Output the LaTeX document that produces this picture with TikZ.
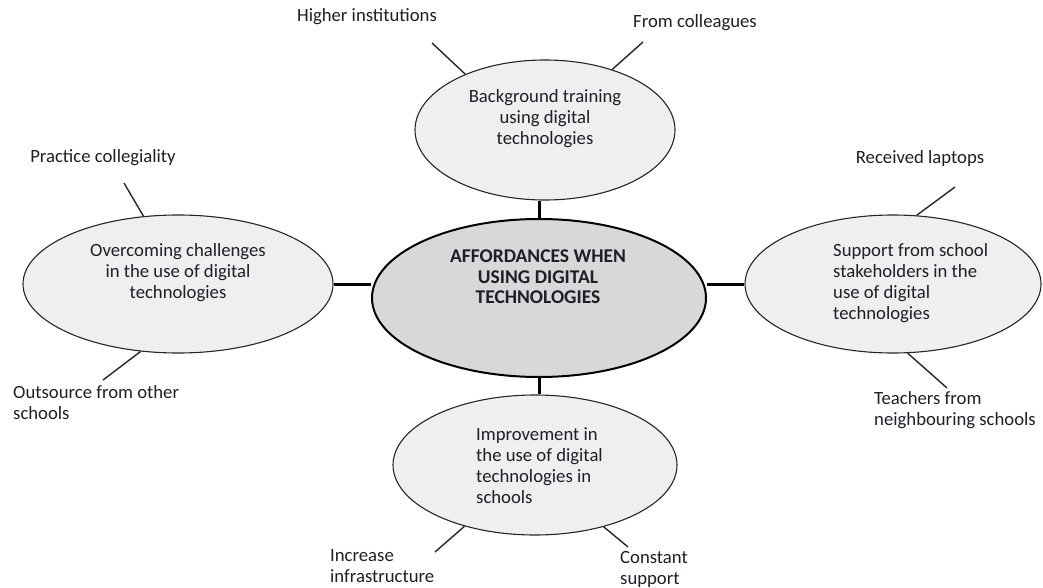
\documentclass[tikz,border=0pt]{standalone}
\usepackage{fontspec}
\setmainfont{Carlito}
\usetikzlibrary{shapes.geometric}
\definecolor{outerfill}{RGB}{239,239,239}
\definecolor{centerfill}{RGB}{216,216,216}
\definecolor{txt}{RGB}{30,30,40}
\begin{document}
\begin{tikzpicture}[x=1pt,y=-1pt,
  bubble/.style={ellipse,draw=black!85,line width=1.1pt,fill=outerfill,inner sep=0pt},
  hub/.style={ellipse,draw=black,line width=2pt,fill=centerfill,inner sep=0pt,minimum width=334pt,minimum height=158pt},
  lbl/.style={inner sep=0pt,text=txt,font=\fontsize{18.7}{21}\selectfont},
  spoke/.style={draw=black!85,line width=1.4pt},
  link/.style={draw=black,line width=3pt}]
\useasboundingbox (0,0) rectangle (1043,588);
% ellipses
\node[hub] (C) at (539,298) {};
\node[bubble,minimum width=260pt,minimum height=140pt] (T) at (545,130) {};
\node[bubble,minimum width=310pt,minimum height=138pt] (L) at (178,284) {};
\node[bubble,minimum width=296pt,minimum height=138pt] (R) at (893,284) {};
\node[bubble,minimum width=284pt,minimum height=140pt] (B) at (535,465) {};
% texts inside
\node[lbl,align=center,font=\fontsize{19.5}{20.5}\selectfont\bfseries] (Ct) at (538,277) {AFFORDANCES WHEN\\USING DIGITAL\\TECHNOLOGIES};
\node[lbl,align=center] (Tt) at (545,119) {Background training\\using digital\\technologies};
\node[lbl,align=center] (Lt) at (178,273) {Overcoming challenges\\in the use of digital\\technologies};
\node[lbl,align=left,anchor=west] (Rt) at (833,283) {Support from school\\stakeholders in the\\use of digital\\technologies};
\node[lbl,align=left,anchor=west] (Bt) at (476,466) {Improvement in\\the use of digital\\technologies in\\schools};
% outer labels
\node[lbl] (hi) at (367,17) {Higher institutions};
\node[lbl] (fc) at (695,23) {From colleagues};
\node[lbl] (pc) at (103,158) {Practice collegiality};
\node[lbl,align=left,anchor=west] (os) at (13,403) {Outsource from other\\schools};
\node[lbl] (rl) at (920,159) {Received laptops};
\node[lbl,align=left,anchor=west] (tn) at (874,410) {Teachers from\\neighbouring schools};
\node[lbl,align=left,anchor=west] (ii) at (330,566) {Increase\\infrastructure};
\node[lbl,align=left,anchor=west] (cs) at (620,569) {Constant\\support};
% free ends of spokes
\coordinate (hiE) at (432,43);
\coordinate (fcE) at (643,42);
\coordinate (pcE) at (124,183);
\coordinate (osE) at (103,380);
\coordinate (rlE) at (955,187);
\coordinate (tnE) at (947,388);
\coordinate (iiE) at (435,552);
\coordinate (csE) at (628,547);
% spokes
\draw[spoke] (hiE) -- (T.145);
\draw[spoke] (fcE) -- (T.42);
\draw[spoke] (pcE) -- (L.117);
\draw[spoke] (osE) -- (L.-119);
\draw[spoke] (rlE) -- (R.71);
\draw[spoke] (tnE) -- (R.-78);
\draw[spoke] (iiE) -- (B.-139);
\draw[spoke] (csE) -- (B.-42);
% links to hub
\draw[link] (C.north) -- (C.north |- T.south);
\draw[link] (C.south) -- (C.south |- B.north);
\draw[link] (L.east) -- (L.east -| C.west);
\draw[link] (C.east |- R.west) -- (R.west);
\end{tikzpicture}
\end{document}
